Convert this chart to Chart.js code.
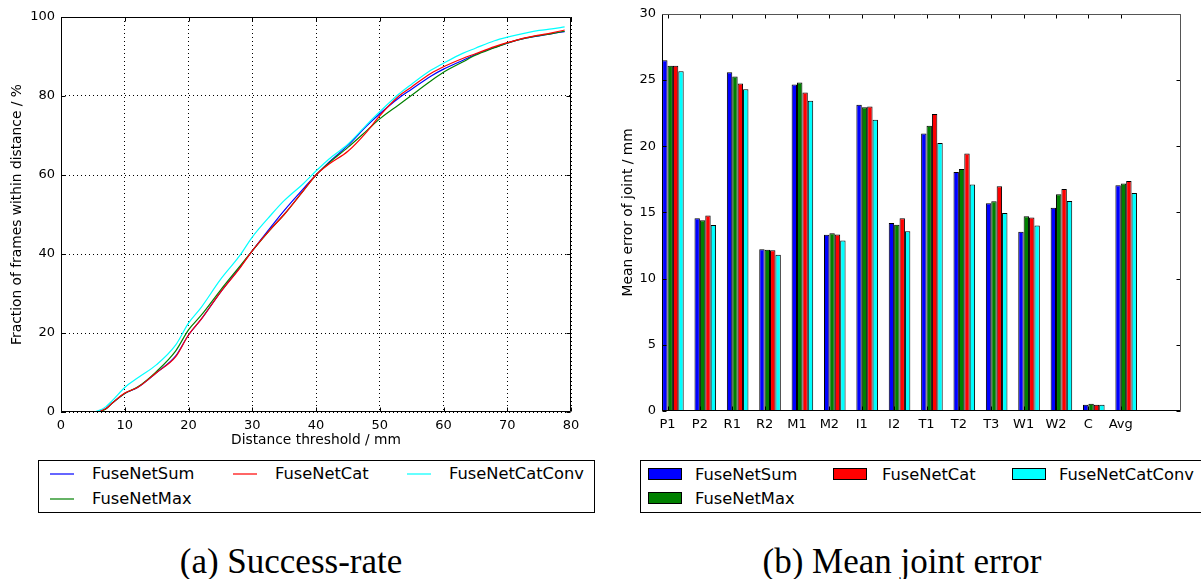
<!DOCTYPE html>
<html>
<head>
<meta charset="utf-8">
<title>FuseNet comparison</title>
<script src="https://cdn.jsdelivr.net/npm/chart.js@4.4.0/dist/chart.umd.min.js"></script>
<style>
  body { margin: 0; background: #fff; width: 1201px; height: 579px; overflow: hidden; position: relative; font-family: "DejaVu Sans", sans-serif; }
  canvas { position: absolute; top: 0; }
  #rateChart { left: 0; }
  #errorChart { left: 600px; }
  .legend { position: absolute; border: 1px solid #000; box-sizing: border-box; font-size: 16.3px; color: #000; }
  .legend .item { position: absolute; white-space: nowrap; line-height: 18px; }
  .legend .swatch { position: absolute; box-sizing: border-box; }
  .caption { position: absolute; top: 542px; font-family: "Liberation Serif", serif; font-size: 35px; transform: translateX(-50%); white-space: nowrap; color: #000; }
</style>
</head>
<body>
<canvas id="rateChart" width="600" height="455"></canvas>
<canvas id="errorChart" width="601" height="455"></canvas>
<div class="legend" id="rateLegend" style="left:38px; top:460px; width:557px; height:53px;"></div>
<div class="legend" id="errorLegend" style="left:640px; top:460px; width:570px; height:53px;"></div>
<div class="caption" style="left:291px;">(a) Success-rate</div>
<div class="caption" style="left:902px;">(b) Mean joint error</div>
<script>
// series names and colours, in plotting order
const seriesNames = ['FuseNetSum', 'FuseNetMax', 'FuseNetCat', 'FuseNetCatConv'];
const seriesColors = ['#0000ff', '#008000', '#ff0000', '#00ffff'];

// success rate: % of frames with max joint error below threshold (mm)
const distances = [0, 5, 6, 7, 8, 10, 12, 15, 18, 20, 22, 25, 28, 30, 33, 35, 38, 40, 42, 45, 48, 50, 53, 55, 58, 60, 63, 65, 68, 70, 73, 75, 77, 79];
const rateSum = [0, 0, 0.2, 0.8, 2.2, 4.7, 6.2, 10, 14.2, 19.5, 23.5, 30.3, 36.5, 40.8, 47, 51, 56.5, 60, 63.2, 67.5, 72.5, 75.5, 79.5, 81.7, 85, 86.8, 89, 90.5, 92.3, 93.4, 94.7, 95.2, 95.8, 96.3];
const rateMax = [0, 0, 0.1, 0.7, 2.2, 4.7, 6.3, 10.3, 15.5, 20.8, 24.5, 30.8, 36.8, 40.8, 46.5, 50, 56, 60, 63, 67, 71.3, 74.2, 77.8, 80.2, 83.8, 86, 88.6, 90.3, 92.2, 93.4, 94.7, 95.3, 95.8, 96.4];
const rateCat = [0, 0, 0.2, 0.8, 2.2, 4.8, 6.2, 10, 14, 19.5, 23.5, 30.3, 36.3, 40.8, 46.5, 50, 56, 60, 62.7, 66, 71, 75, 80, 82.3, 85.7, 87.4, 89.5, 90.7, 92.5, 93.5, 94.8, 95.4, 96, 96.7];
const rateCatConv = [0, 0, 0.4, 1.3, 2.8, 6.2, 8.6, 12, 17, 22.5, 26.5, 33.5, 39.5, 44.3, 50, 53.5, 57.8, 61, 64, 67.8, 72.8, 76, 80.5, 83, 86.5, 88.3, 90.8, 92.1, 94, 94.9, 96, 96.6, 97, 97.5];

// mean error per joint (mm)
const joints = ['P1', 'P2', 'R1', 'R2', 'M1', 'M2', 'I1', 'I2', 'T1', 'T2', 'T3', 'W1', 'W2', 'C', 'Avg'];
const errSum = [26.5, 14.56, 25.59, 12.22, 24.66, 13.32, 23.14, 14.19, 20.95, 18.05, 15.69, 13.54, 15.36, 0.47, 17.06];
const errMax = [26.08, 14.41, 25.26, 12.17, 24.81, 13.42, 22.94, 14.06, 21.55, 18.28, 15.84, 14.71, 16.38, 0.55, 17.18];
const errCat = [26.08, 14.76, 24.74, 12.14, 24.06, 13.34, 22.99, 14.56, 22.44, 19.45, 16.98, 14.61, 16.76, 0.47, 17.38];
const errCatConv = [25.66, 14.04, 24.31, 11.8, 23.44, 12.87, 22.0, 13.57, 20.25, 17.11, 14.96, 14.01, 15.86, 0.47, 16.46];

const rateSeries = [rateSum, rateMax, rateCat, rateCatConv];
const errSeries = [errSum, errMax, errCat, errCatConv];

Chart.defaults.font.family = "'DejaVu Sans', sans-serif";
Chart.defaults.font.size = 13;
Chart.defaults.color = '#000';
Chart.defaults.animation = false;

// axes box with inward tick marks on all four sides
const frameTicks = {
    id: 'frameTicks',
    afterDatasetsDraw(chart, args, opts) {
        const { ctx, chartArea: a, scales: { x, y } } = chart;
        const len = 4;
        const L = Math.round(a.left) + 0.5, R = Math.round(a.right) - 0.5;
        const T = Math.round(a.top) + 0.5, B = Math.round(a.bottom) - 0.5;
        ctx.save();
        ctx.lineWidth = 1;
        ctx.strokeStyle = '#000';
        ctx.beginPath();
        x.ticks.forEach(t => {
            const px = Math.round(x.getPixelForValue(t.value)) + 0.5;
            ctx.moveTo(px, T); ctx.lineTo(px, T + len);
            ctx.moveTo(px, B); ctx.lineTo(px, B - len);
        });
        y.ticks.forEach(t => {
            const py = Math.round(y.getPixelForValue(t.value)) + 0.5;
            ctx.moveTo(L, py); ctx.lineTo(L + len, py);
            ctx.moveTo(R, py); ctx.lineTo(R - len, py);
        });
        ctx.stroke();

        ctx.beginPath();
        ctx.strokeStyle = opts.mainColor || '#000';
        ctx.moveTo(L, T); ctx.lineTo(L, B); ctx.lineTo(R, B);
        ctx.stroke();
        ctx.beginPath();
        ctx.strokeStyle = opts.sideColor || '#000';
        ctx.moveTo(L, T); ctx.lineTo(R, T); ctx.lineTo(R, B);
        ctx.stroke();
        ctx.restore();
    }
};

new Chart(document.getElementById('rateChart'), {
    type: 'line',
    data: {
        datasets: seriesNames.map((name, i) => ({
            label: name,
            data: distances.map((d, k) => ({ x: d, y: rateSeries[i][k] })),
            borderColor: seriesColors[i],
            borderWidth: 1.2,
            pointRadius: 0,
            cubicInterpolationMode: 'monotone',
            fill: false,
            order: seriesNames.length - i
        }))
    },
    options: {
        responsive: false,
        layout: { padding: { left: 0, top: 17, right: 29, bottom: 0 } },
        plugins: {
            legend: { display: false },
            tooltip: { enabled: false },
            frameTicks: { mainColor: '#000', sideColor: '#000' }
        },
        scales: {
            x: {
                type: 'linear',
                min: 0,
                max: 80,
                ticks: { stepSize: 10, padding: 6, maxRotation: 0 },
                grid: { color: '#000', lineWidth: 1, drawTicks: false },
                border: { display: false, dash: [1, 3] },
                title: { display: true, text: 'Distance threshold / mm', font: { size: 13.8 }, padding: { top: 0, bottom: 6 } },
                afterFit: s => { s.height = 43; }
            },
            y: {
                min: 0,
                max: 100,
                ticks: { stepSize: 20, padding: 6 },
                grid: { color: '#000', lineWidth: 1, drawTicks: false },
                border: { display: false, dash: [1, 3] },
                title: { display: true, text: 'Fraction of frames within distance / %', font: { size: 13.8 }, padding: { top: 9, bottom: 0 } },
                afterFit: s => { s.width = 61; }
            }
        }
    },
    plugins: [frameTicks]
});

// bars sit on a linear axis so each group starts one bar-width left of its tick
const barWidth = 1 / 6;
new Chart(document.getElementById('errorChart'), {
    type: 'bar',
    data: {
        datasets: seriesNames.map((name, i) => ({
            label: name,
            data: joints.map((j, k) => ({ x: k + barWidth, y: errSeries[i][k] })),
            backgroundColor: seriesColors[i],
            borderColor: '#000',
            borderWidth: 1,
            categoryPercentage: 4 * barWidth,
            barPercentage: 1
        }))
    },
    options: {
        responsive: false,
        layout: { padding: { left: 0, top: 10, right: 20, bottom: 0 } },
        plugins: {
            legend: { display: false },
            tooltip: { enabled: false },
            frameTicks: { mainColor: '#000', sideColor: '#555' }
        },
        scales: {
            x: {
                type: 'linear',
                offset: false,
                min: -0.17,
                max: 15.86,
                afterBuildTicks: s => { s.ticks = joints.map((j, k) => ({ value: k })); },
                ticks: { callback: v => joints[v], autoSkip: false, maxRotation: 0, padding: 6 },
                grid: { display: false, drawTicks: false },
                border: { display: false },
                afterFit: s => { s.height = 44; }
            },
            y: {
                min: 0,
                max: 30,
                ticks: { stepSize: 5, padding: 6 },
                grid: { display: false, drawTicks: false },
                border: { display: false },
                title: { display: true, text: 'Mean error of joint / mm', font: { size: 13.8 }, padding: { top: 20, bottom: 0 } },
                afterFit: s => { s.width = 62; }
            }
        }
    },
    plugins: [frameTicks]
});

// legend boxes: three columns, filled column by column
function buildLegend(id, cols, rows, drawSwatch) {
    const box = document.getElementById(id);
    seriesNames.forEach((name, i) => {
        const slot = [[0, 0], [0, 1], [1, 0], [2, 0]][i];
        const sw = document.createElement('div');
        sw.className = 'swatch';
        drawSwatch(sw, seriesColors[i], cols[slot[0]].swatch, rows[slot[1]]);
        box.appendChild(sw);
        const label = document.createElement('div');
        label.className = 'item';
        label.textContent = name;
        label.style.left = cols[slot[0]].text + 'px';
        label.style.top = (rows[slot[1]] - 8) + 'px';
        box.appendChild(label);
    });
}

buildLegend('rateLegend',
    [{ swatch: 11, text: 53 }, { swatch: 194, text: 236 }, { swatch: 368, text: 410 }],
    [12, 37],
    (el, color, x, y) => {
        el.style.left = x + 'px';
        el.style.top = y + 'px';
        el.style.width = '24px';
        el.style.height = '2px';
        el.style.background = color;
        el.style.opacity = '0.6';
    });

buildLegend('errorLegend',
    [{ swatch: 7, text: 54 }, { swatch: 192, text: 241 }, { swatch: 371, text: 418 }],
    [13, 37],
    (el, color, x, y) => {
        el.style.left = x + 'px';
        el.style.top = (y - 6) + 'px';
        el.style.width = '34px';
        el.style.height = '12px';
        el.style.background = color;
        el.style.border = '1px solid #000';
    });
</script>
</body>
</html>
